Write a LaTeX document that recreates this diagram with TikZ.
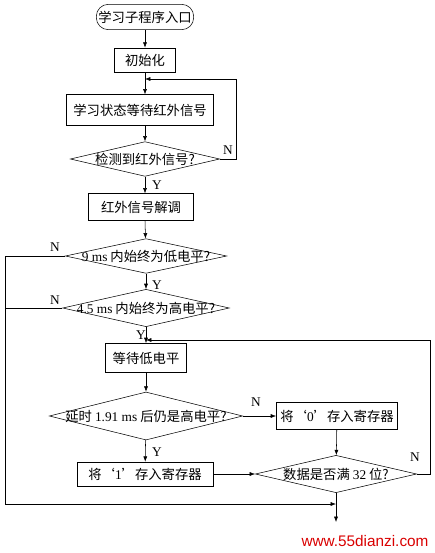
\documentclass[tikz,border=0pt]{standalone}
\usepackage{fontspec}
\setmainfont{Liberation Serif}
\newfontfamily\cjk{Noto Sans CJK SC}
\newfontfamily\wmfont{Liberation Sans}
\usetikzlibrary{arrows.meta,shapes.geometric}
\newcommand{\lat}[1]{{\rmfamily #1}}
\newcommand{\dtext}[1]{\makebox[0pt]{#1}}

\begin{document}
\begin{tikzpicture}[x=0.75pt,y=-0.75pt,>={Latex[length=4pt,width=3pt]},
  box/.style={draw,font=\cjk,inner sep=1pt},
  dec/.style={draw,diamond,font=\cjk,inner sep=0pt},
  yn/.style={font=\rmfamily}]
  \useasboundingbox (0,0) rectangle (435,553);
  % steps
  \node[box,rounded corners=9pt,minimum width=73pt,minimum height=19pt] (start) at (145,17) {学习子程序入口};
  \node[box,minimum width=46pt,minimum height=18pt] (init) at (145,60) {初始化};
  \node[box,minimum width=110pt,minimum height=23pt] (wait) at (140,110) {学习状态等待红外信号};
  \node[dec,minimum width=112pt,minimum height=26pt] (d1) at (145,159) {\dtext{检测到红外信号?}};
  \node[box,minimum width=79pt,minimum height=20pt] (demod) at (141,207) {红外信号解调};
  \node[dec,minimum width=121pt,minimum height=26pt] (d2) at (146,256) {\dtext{\lat{9 ms} 内始终为低电平?}};
  \node[dec,minimum width=125pt,minimum height=28pt] (d3) at (146,308) {\dtext{\lat{4.5 ms} 内始终为高电平?}};
  \node[box,minimum width=61pt,minimum height=22pt] (low) at (146,358) {等待低电平};
  \node[dec,minimum width=145pt,minimum height=36pt] (d4) at (146,416) {\dtext{延时 \lat{1.91 ms} 后仍是高电平?}};
  \node[box,minimum width=91pt,minimum height=20pt] (zero) at (337,416) {将‘\lat{0}’存入寄存器};
  \node[box,minimum width=102pt,minimum height=18pt] (one) at (145,474) {将‘\lat{1}’存入寄存器};
  \node[dec,minimum width=121pt,minimum height=28pt] (d5) at (336,474) {\dtext{数据是否满 \lat{32} 位?}};
  \coordinate (back1) at (145,79);
  \coordinate (back2) at (146,340);
  \coordinate (join) at (336,504);
  \coordinate (exit) at (336,522);
  % main flow
  \draw[->] (start) -- (init);
  \draw[->] (init) -- (init |- wait.north);
  \draw[->] (init |- wait.south) -- (d1);
  \draw[->] (d1) -- (d1 |- demod.north);
  \draw[->] (d1 |- demod.south) -- (d2);
  \draw[->] (d2) -- (d3);
  \draw[->] (d3) -- (low);
  \draw[->] (low) -- (d4);
  \draw[->] (d4) -- (one);
  \draw[->] (d4) -- (zero);
  \draw[->] (zero) -- (d5);
  \draw[->] (one) -- (d5);
  \draw[->] (d5) -- (exit);
  % loops
  \draw[->] (d1.east) -- (236,159) -- (236,79) -- (back1);
  \draw[->] (d2.west) -- (5,256) -- (5,504) -- (join);
  \draw (d3.west) -- (5,308);
  \draw[->] (d5.east) -- (430,474) -- (430,340) -- (back2);
  % labels
  \node[yn] (n1) at (228,150) {N};
  \node[yn] (y1) at (157,185) {Y};
  \node[yn] (n2) at (55,247) {N};
  \node[yn] (y2) at (157,285) {Y};
  \node[yn] (n3) at (55,300) {N};
  \node[yn] (y3) at (141,335) {Y};
  \node[yn] (n4) at (256,402) {N};
  \node[yn] (y4) at (157,452) {Y};
  \node[yn] (n5) at (415,457) {N};
  \node[font=\wmfont\fontsize{11.5}{13}\selectfont,text=red!85!black] (wm) at (365,541) {www.55dianzi.com};
\end{tikzpicture}
\end{document}
